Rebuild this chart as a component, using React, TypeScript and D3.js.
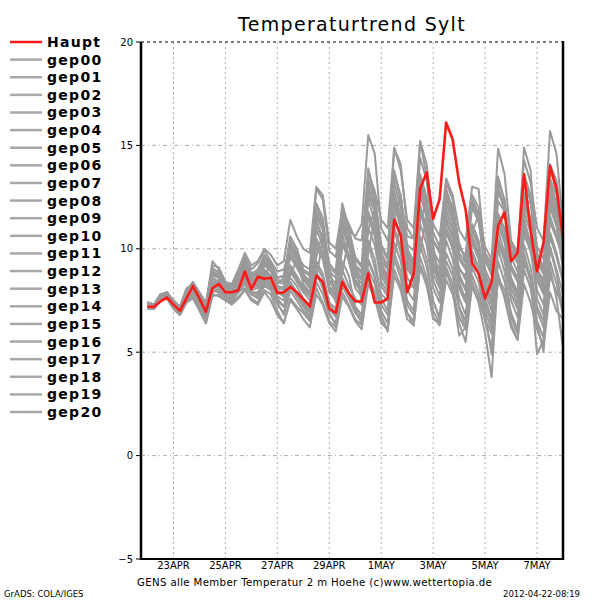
import React from "react";
import * as d3 from "d3";

// 6-hourly steps starting 2012-04-22 00Z
const startTime = Date.UTC(2012, 3, 22, 0);
const stepHours = 6;

const haupt = [
  7.2, 7.2, 7.45, 7.65, 7.3, 7.0, 7.6, 8.2, 7.6, 6.95, 8.1, 8.3, 7.9, 7.9, 8.0, 8.9,
  8.05, 8.65, 8.55, 8.6, 7.85, 7.9, 8.15, 7.9, 7.55, 7.2, 8.7, 8.4, 7.1, 6.9, 8.4, 7.85,
  7.45, 7.45, 8.8, 7.4, 7.4, 7.6, 11.4, 10.65, 7.9, 8.8, 12.9, 13.7, 11.45, 12.4, 16.1, 15.3,
  13.2, 11.9, 9.3, 8.8, 7.6, 8.4, 11.1, 11.75, 9.4, 9.8, 13.6, 10.9, 8.9, 10.3, 14.0, 12.9,
  10.5,
];

const gep00 = [7.3,7.2,7.6,7.7, 7.3,7.1,7.7,8.0, 7.5,7.0,8.3,8.5, 8.0,7.9,8.2,8.6, 8.2,8.5,8.8,8.4, 7.9,7.8,8.6,8.2, 7.6,7.3,9.4,8.8, 7.4,7.1,9.0,8.2, 7.6,7.3,10.2,9.1, 7.8,7.5,11.0,10.1, 8.0,8.3,12.1,11.0, 9.0,8.6,11.8,10.9, 8.7,8.1,10.4,9.6, 8.2,7.5,10.9,9.8, 8.3,7.9,11.5,10.2, 8.5,7.8,12.0,11.1, 9.0];
const gep01 = [7.4,7.3,7.8,7.8, 7.4,7.2,7.9,8.3, 7.8,7.3,9.0,8.9, 8.2,8.0,8.9,9.3, 8.7,8.9,9.6,9.1, 8.3,8.6,10.4,9.8, 8.8,8.3,12.1,11.2, 8.5,8.1,11.4,10.3, 9.1,8.8,13.9,12.6, 10.2,9.6,14.9,13.8, 11.4,11.0,15.2,13.5, 10.8,10.1,12.8,12.0, 10.3,9.4,12.4,11.6, 9.7,9.1,13.5,12.3, 9.6,8.9,12.7,11.4, 9.3,8.8,13.1,12.2, 10.4];
const gep02 = [7.2,7.1,7.5,7.6, 7.2,6.9,7.6,7.7, 7.1,6.5,7.9,8.0, 7.6,7.5,7.9,8.1, 7.8,7.7,8.3,8.0, 7.4,6.8,8.0,7.5, 7.0,6.6,8.4,7.8, 6.8,6.4,8.2,7.6, 6.9,6.5,9.0,8.3, 7.0,6.4,9.8,8.9, 7.3,6.8,10.2,9.1, 7.5,6.6,9.4,8.7, 7.1,6.2,9.1,8.4, 6.8,4.9,8.6,8.0, 6.9,6.1,9.3,8.6, 7.2,6.5,10.1,9.0, 7.8];
const gep03 = [7.3,7.3,7.7,7.8, 7.4,7.0,7.8,8.1, 7.7,7.1,8.6,8.4, 8.1,8.0,8.5,9.0, 8.4,8.3,8.6,9.3, 8.1,8.0,8.7,9.5, 8.3,7.9,9.6,10.8, 8.2,7.8,10.0,10.4, 8.4,8.0,10.9,11.9, 9.1,8.4,11.5,12.6, 9.6,9.0,11.4,12.2, 9.4,8.5,11.5,10.6, 9.0,8.7,10.8,11.6, 8.8,8.0,11.0,11.9, 9.2,8.5,11.8,12.4, 9.0,8.2,11.3,10.5, 9.6];
const gep04 = [7.4,7.2,7.6,7.9, 7.5,7.2,8.1,8.2, 7.6,7.2,9.4,9.0, 8.3,8.2,8.7,9.6, 9.0,9.3,9.9,9.4, 8.9,9.0,10.1,9.7, 9.2,9.0,12.9,12.4, 9.9,9.6,11.7,10.9, 10.6,11.2,15.5,14.6, 11.0,10.4,12.2,11.4, 10.0,9.4,11.8,10.6, 9.3,8.7,11.0,10.2, 9.1,8.5,10.6,9.8, 8.7,7.9,10.2,9.5, 8.4,7.6,10.7,9.9, 8.8,8.1,11.6,10.6, 9.4];
const gep05 = [7.1,7.1,7.5,7.6, 7.1,6.8,7.4,7.6, 7.0,6.4,7.8,7.7, 7.5,7.4,7.7,8.0, 7.6,7.4,8.0,7.8, 7.0,6.4,7.6,7.2, 6.9,6.5,8.1,7.4, 6.5,6.2,7.9,7.3, 6.6,6.3,8.6,7.9, 6.5,6.1,9.0,8.2, 6.9,6.5,9.6,8.6, 7.0,6.4,9.1,8.3, 6.4,5.5,8.2,7.4, 5.9,3.8,8.8,7.6, 6.2,5.6,9.0,8.1, 6.4,5.0,9.4,8.3, 6.8];
const gep06 = [7.3,7.2,7.7,7.8, 7.3,7.1,7.9,8.2, 7.6,7.0,8.7,8.7, 8.2,8.0,8.6,9.2, 8.5,8.6,9.3,9.0, 8.2,8.1,9.7,9.2, 8.6,8.2,11.1,10.5, 8.4,8.2,10.9,10.2, 8.8,8.5,12.6,11.8, 9.3,8.7,12.8,11.6, 9.1,8.9,13.2,12.0, 9.6,9.0,12.5,11.5, 9.8,9.3,12.0,11.3, 9.4,8.8,12.9,12.1, 10.2,9.7,14.3,13.2, 11.0,10.4,15.7,14.6, 11.2];
const gep07 = [7.4,7.3,7.7,7.9, 7.4,7.1,7.8,8.1, 7.7,7.2,8.8,8.6, 8.1,8.1,8.7,9.4, 8.8,8.7,9.5,9.3, 8.6,8.7,10.6,10.0, 9.0,8.8,11.6,10.9, 9.3,8.9,12.2,11.0, 9.6,9.2,13.4,12.5, 10.0,9.5,13.6,12.4, 10.6,10.5,15.2,14.1, 11.2,10.6,13.4,12.6, 10.9,10.4,13.0,12.9, 9.6,8.7,11.7,11.0, 9.2,8.6,12.1,11.2, 9.0,8.5,12.6,11.5, 10.1];
const gep08 = [7.2,7.2,7.6,7.7, 7.2,7.0,7.6,7.9, 7.4,6.8,8.2,8.1, 7.9,7.7,8.1,8.5, 8.0,8.1,8.6,8.3, 7.7,7.5,8.9,8.4, 7.9,7.5,8.6,10.4, 9.2,7.4,8.8,10.6, 9.4,7.4,9.8,11.5, 8.2,7.7,11.6,10.6, 8.6,8.1,11.9,10.8, 8.5,7.7,10.8,10.0, 8.1,7.4,10.3,9.5, 7.6,6.6,10.5,9.6, 7.8,7.1,11.2,10.3, 8.0,7.3,10.8,9.8, 8.5];
const gep09 = [7.3,7.2,7.6,7.8, 7.3,7.0,7.7,8.0, 7.5,7.0,8.4,8.3, 8.0,7.9,8.3,8.8, 8.3,8.2,8.9,8.6, 8.0,7.8,9.1,8.6, 8.2,7.8,10.3,9.7, 8.0,7.7,10.4,9.5, 8.3,7.9,11.6,10.6, 8.7,8.1,12.1,11.0, 9.0,8.6,12.6,11.5, 9.3,8.8,12.2,11.3, 9.5,9.0,12.4,11.7, 10.1,9.5,14.85,13.6, 10.4,9.8,13.6,12.4, 9.8,9.1,12.9,11.8, 10.2];
const gep10 = [7.4,7.2,7.7,7.7, 7.4,7.1,7.8,8.2, 7.6,7.1,8.9,8.7, 8.2,8.1,8.4,9.1, 8.6,8.7,9.4,9.1, 8.4,8.3,9.8,9.4, 8.6,8.4,11.4,10.5, 8.7,8.3,11.2,10.3, 9.0,8.6,12.9,12.0, 9.4,9.0,13.8,12.5, 9.8,9.2,12.9,11.8, 9.1,8.3,11.4,10.5, 8.4,7.5,10.9,10.1, 8.6,8.0,12.3,11.8, 10.0,9.6,14.9,13.8, 9.6,8.9,13.3,12.1, 10.6];
const gep11 = [7.2,7.1,7.5,7.6, 7.2,6.9,7.5,7.7, 7.2,6.7,8.0,7.9, 7.7,7.6,7.9,8.3, 7.9,7.9,8.5,8.1, 7.5,7.2,8.4,7.9, 7.3,6.9,8.9,8.3, 7.1,6.7,8.6,7.9, 7.1,6.6,9.5,8.7, 7.3,6.8,10.3,9.4, 7.5,7.0,10.6,9.5, 7.4,6.7,9.8,9.0, 7.2,6.5,9.7,8.8, 7.0,6.1,10.0,8.9, 6.8,6.0,9.6,8.4, 4.9,5.6,8.7,7.9, 7.2];
const gep12 = [7.3,7.3,7.6,7.7, 7.3,7.0,7.6,7.8, 7.3,6.6,8.1,8.0, 7.8,7.6,8.0,8.4, 7.9,7.8,8.4,8.2, 7.6,7.2,8.3,7.8, 7.4,7.0,9.2,8.6, 7.3,6.9,9.4,8.7, 7.2,6.8,10.4,9.5, 7.6,7.0,10.9,9.8, 8.0,7.5,11.2,10.2, 8.1,7.4,10.4,9.5, 7.6,6.8,9.9,9.1, 7.3,6.4,10.4,9.4, 7.5,6.7,10.2,9.1, 7.0,6.2,9.1,7.6, 5.2];
const gep13 = [7.4,7.3,7.8,7.9, 7.5,7.2,8.0,8.4, 7.9,7.4,9.2,9.1, 8.4,8.3,9.0,9.8, 9.2,9.4,10.0,9.7, 9.2,9.4,11.4,10.6, 10.0,9.8,13.0,12.6, 10.3,10.0,11.9,11.2, 10.5,10.4,13.7,12.8, 11.4,11.0,14.85,14.1, 11.0,10.5,13.4,12.2, 10.4,9.8,12.6,11.8, 10.1,9.6,12.3,11.4, 9.8,9.3,12.8,11.9, 9.9,9.4,13.2,12.3, 10.1,9.5,13.8,12.9, 10.9];
const gep14 = [7.2,7.2,7.6,7.7, 7.2,6.9,7.5,7.8, 7.2,6.6,8.0,7.9, 7.7,7.5,7.9,8.3, 7.8,7.6,8.2,8.0, 7.3,6.9,8.2,7.7, 7.2,6.7,8.8,8.1, 6.9,6.3,8.5,7.8, 7.0,6.4,9.4,8.6, 6.8,6.0,9.5,8.6, 6.9,6.3,9.2,8.4, 6.6,6.4,8.9,8.0, 5.8,6.2,8.7,7.9, 6.5,5.2,9.4,8.4, 6.7,5.9,9.8,8.6, 6.5,5.7,10.0,8.8, 7.0];
const gep15 = [7.3,7.3,7.7,7.8, 7.4,7.1,7.9,8.1, 7.6,7.1,8.7,8.6, 8.1,8.0,8.6,9.1, 8.5,8.4,9.2,8.9, 8.2,8.1,9.6,9.1, 8.5,8.1,10.9,10.2, 8.4,8.0,11.2,10.2, 8.7,8.3,12.4,11.3, 9.2,8.6,12.6,11.4, 9.4,8.8,13.0,11.9, 9.2,8.4,11.9,11.0, 8.8,8.0,11.2,10.4, 8.4,7.6,11.4,10.5, 8.6,7.9,12.2,11.2, 8.9,8.3,12.5,11.5, 9.8];
const gep16 = [7.1,7.1,7.5,7.6, 7.1,6.8,7.4,7.7, 7.1,6.4,7.7,7.8, 7.5,7.3,7.6,8.0, 7.5,7.3,7.9,7.5, 6.8,6.4,7.5,7.1, 6.6,6.2,7.8,7.3, 6.4,6.0,7.7,7.2, 6.5,6.1,8.3,7.6, 6.4,6.1,8.7,8.0, 6.6,6.3,9.1,8.2, 6.7,6.3,8.5,7.8, 6.7,6.1,8.4,7.6, 6.6,5.9,8.5,7.7, 6.4,5.6,8.3,7.4, 6.1,5.3,7.9,7.0, 6.6];
const gep17 = [7.4,7.3,7.8,7.8, 7.5,7.2,8.0,8.3, 7.8,7.3,9.1,8.8, 8.3,8.2,8.9,9.5, 8.8,9.0,9.7,9.3, 8.6,8.7,10.2,9.6, 8.9,8.7,12.2,11.5, 9.1,8.8,12.0,11.0, 9.5,9.1,13.1,12.2, 9.8,9.2,13.5,12.6, 10.2,9.9,14.4,13.3, 10.4,9.9,13.2,12.4, 10.0,9.7,12.6,12.0, 9.5,8.9,13.2,12.4, 9.8,9.3,13.6,12.6, 9.6,9.0,14.1,13.3, 10.8];
const gep18 = [7.3,7.2,7.6,7.8, 7.3,7.0,7.7,7.9, 7.4,6.9,8.3,8.2, 7.9,7.8,8.2,8.7, 8.1,8.2,8.7,8.5, 7.9,7.7,9.0,8.5, 8.0,7.7,10.1,9.5, 7.9,7.5,10.3,9.4, 8.1,7.7,11.0,10.2, 8.4,7.9,9.6,11.3, 10.1,8.3,9.9,11.6, 10.2,8.2,11.3,10.5, 8.6,8.0,11.1,10.3, 8.2,7.3,11.2,10.3, 8.4,7.6,11.8,10.8, 8.6,7.9,12.3,11.2, 9.3];
const gep19 = [7.2,7.2,7.7,7.7, 7.3,7.0,7.7,8.0, 7.5,6.9,8.5,8.4, 8.0,7.9,8.4,8.9, 8.3,8.3,9.0,8.7, 8.0,7.7,9.2,8.7, 8.1,7.7,10.5,9.8, 8.1,7.7,10.7,9.7, 8.5,8.1,11.8,10.9, 8.9,8.3,12.4,11.2, 9.2,8.7,12.8,11.7, 8.8,8.1,11.0,10.1, 8.3,7.6,10.6,9.8, 7.9,7.0,10.3,9.5, 8.1,7.3,11.0,10.0, 7.6,6.8,10.6,9.6, 8.4];
const gep20 = [7.4,7.3,7.7,7.8, 7.4,7.1,7.9,8.2, 7.7,7.2,8.9,8.7, 8.2,8.1,8.7,9.4, 8.7,8.8,9.5,9.2, 8.5,8.4,10.0,9.5, 8.7,8.5,11.8,11.0, 8.9,8.6,11.7,10.6, 9.2,8.9,13.0,12.1, 9.6,9.1,13.2,12.0, 9.9,9.4,13.6,12.5, 9.9,9.3,12.9,11.9, 9.6,9.1,12.2,11.4, 9.0,8.3,11.6,10.8, 9.0,8.4,12.4,11.5, 9.4,8.8,13.4,12.6, 10.4];

const members = [gep00, gep01, gep02, gep03, gep04, gep05, gep06, gep07, gep08, gep09, gep10, gep11, gep12, gep13, gep14, gep15, gep16, gep17, gep18, gep19, gep20];
const legendLabels = ["Haupt", "gep00", "gep01", "gep02", "gep03", "gep04", "gep05", "gep06", "gep07", "gep08", "gep09", "gep10", "gep11", "gep12", "gep13", "gep14", "gep15", "gep16", "gep17", "gep18", "gep19", "gep20"];
const yTicks = [-5, 0, 5, 10, 15, 20];
const yGrid = [0, 5, 10, 15];
const xTickDates = [
  Date.UTC(2012, 3, 23), Date.UTC(2012, 3, 25), Date.UTC(2012, 3, 27), Date.UTC(2012, 3, 29),
  Date.UTC(2012, 4, 1), Date.UTC(2012, 4, 3), Date.UTC(2012, 4, 5), Date.UTC(2012, 4, 7),
];

const title = "Temperaturtrend Sylt";
const caption = "GENS alle Member Temperatur 2 m Hoehe (c)www.wettertopia.de";
const leftNote = "GrADS: COLA/IGES";
const rightNote = "2012-04-22-08:19";

const RED = "#ff1a1a";
const GRAY = "#9a9a9a";
const FONT = "'DejaVu Sans', sans-serif";

export default function App() {
  const L = 141, R = 563, T = 42, B = 559;
  const x = d3.scaleUtc()
    .domain([new Date(startTime - stepHours * 3600e3), new Date(startTime + 64 * stepHours * 3600e3)])
    .range([L, R]);
  const y = d3.scaleLinear().domain([-5, 20]).range([B, T]);
  const t = (i: number) => new Date(startTime + i * stepHours * 3600e3);
  const line = d3.line<number>().x((_, i) => x(t(i))).y((v) => y(v));
  const fmt = d3.utcFormat("%-d%b");
  const yLabel = (v: number) => (v < 0 ? "\u2212" + Math.abs(v) : String(v));

  return (
    <svg width={600} height={600} style={{ position: "absolute", left: 0, top: 0, background: "#fff" }} fontFamily={FONT}>
      <rect x={0} y={0} width={600} height={600} fill="#fff" />
      <text x={352} y={31} textAnchor="middle" fontSize={19} letterSpacing={1.3} fill="#000">{title}</text>

      {/* grid */}
      {yGrid.map((v) => (
        <line key={"hg" + v} x1={L} x2={R} y1={y(v)} y2={y(v)} stroke="#aaa" strokeWidth={1} strokeDasharray="4,3,1,3" />
      ))}
      {xTickDates.map((d) => (
        <line key={"vg" + d} x1={x(new Date(d))} x2={x(new Date(d))} y1={T} y2={B} stroke="#aaa" strokeWidth={1} strokeDasharray="2,3" />
      ))}

      {/* members */}
      <g clipPath="url(#clip)">
        {members.map((m, k) => (
          <path key={"m" + k} d={line(m) || ""} fill="none" stroke={GRAY} strokeWidth={2} strokeLinejoin="round" />
        ))}
        <path d={line(haupt) || ""} fill="none" stroke={RED} strokeWidth={2.6} strokeLinejoin="round" />
      </g>
      <defs>
        <clipPath id="clip"><rect x={L} y={T} width={R - L} height={B - T} /></clipPath>
      </defs>

      {/* frame */}
      <line x1={L} x2={R} y1={T} y2={T} stroke="#555" strokeWidth={1.5} strokeDasharray="3,3" />
      <line x1={L} x2={L} y1={T} y2={B + 1} stroke="#000" strokeWidth={2.5} />
      <line x1={R} x2={R} y1={T - 1} y2={B + 1} stroke="#000" strokeWidth={2.5} />
      <line x1={L} x2={R} y1={B} y2={B} stroke="#000" strokeWidth={2} />

      {/* y axis */}
      {yTicks.map((v) => (
        <g key={"yt" + v}>
          <line x1={L - 5} x2={L} y1={y(v)} y2={y(v)} stroke="#000" strokeWidth={1} />
          <text x={L - 8} y={y(v) + 3.5} textAnchor="end" fontSize={10} fill="#000">{yLabel(v)}</text>
        </g>
      ))}

      {/* x axis */}
      {xTickDates.map((d) => (
        <text key={"xl" + d} x={x(new Date(d))} y={569} textAnchor="middle" fontSize={10} fill="#000">
          {fmt(new Date(d)).toUpperCase()}
        </text>
      ))}

      <text x={137} y={586} fontSize={10.2} letterSpacing={0.35} fill="#000">{caption}</text>
      <text x={4} y={597} fontSize={8.5} fill="#000">{leftNote}</text>
      <text x={580} y={597} textAnchor="end" fontSize={8.5} fill="#000">{rightNote}</text>

      {/* legend */}
      {legendLabels.map((lab, k) => {
        const ly = 42 + k * 17.62;
        return (
          <g key={"lg" + lab}>
            <line x1={10} x2={42} y1={ly} y2={ly} stroke={k === 0 ? RED : "#a8a8a8"} strokeWidth={2.5} />
            <text x={47} y={ly + 5} fontSize={14} fontWeight="bold" letterSpacing={1.3} fill="#000">{lab}</text>
          </g>
        );
      })}
    </svg>
  );
}
